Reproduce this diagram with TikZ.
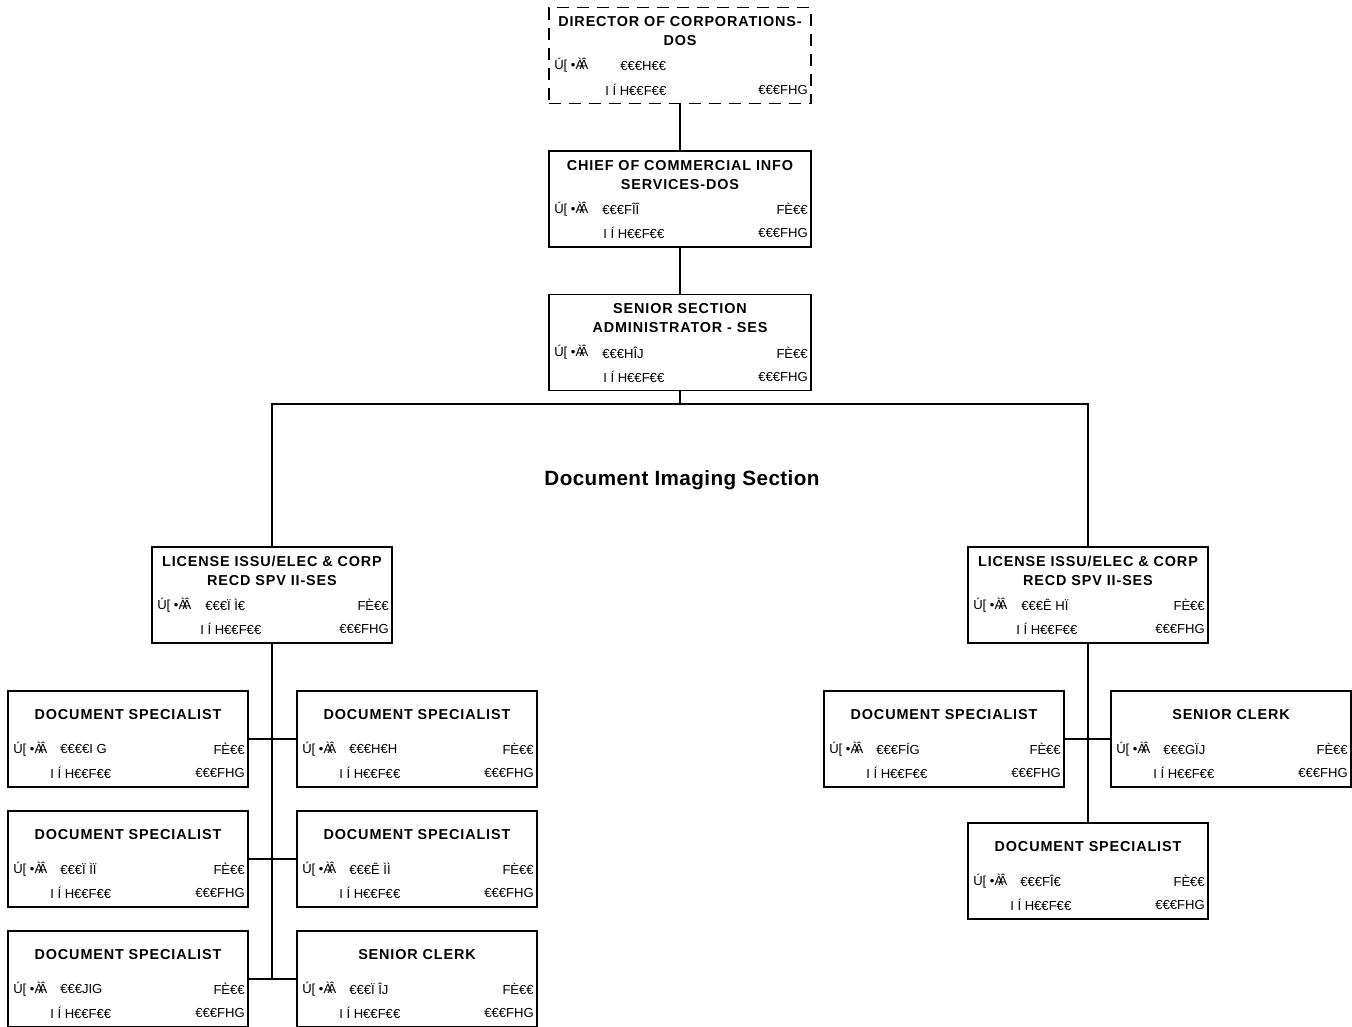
\documentclass[tikz,border=0pt]{standalone}
\usepackage{fontspec}
\setmainfont{Liberation Sans}
\newfontfamily\ttlfont[LetterSpace=6]{Liberation Sans}
\newfontfamily\secfont[LetterSpace=2]{Liberation Sans}
\usetikzlibrary{calc}
\begin{document}
\begin{tikzpicture}[x=0.75pt,y=-0.75pt,
  unit/.style={draw, line width=1.1pt, minimum width=180pt, minimum height=72pt, inner sep=0pt, outer sep=0pt},
  wideunit/.style={unit, minimum width=196.5pt},
  vacant/.style={wideunit, dash pattern=on 9pt off 6pt},
  ttl/.style={font=\ttlfont\bfseries\fontsize{10.8}{14.25}\selectfont, align=center, inner sep=0pt},
  codetxt/.style={font=\fontsize{9.8}{11}\selectfont, inner sep=0pt},
  link/.style={line width=1.3pt}]
\useasboundingbox (0,0) rectangle (1352,1026);

% #1 name, #2 centre, #3 box style, #4 title, #5 position number,
% #6 number offset, #7 second-line offset, #8 grade text
\newcommand\orgunit[8]{%
  \node[#3] (#1) at #2 {};
  \node[ttl] (#1-t) at ($(#1.north)+(0,24)$) {#4};
  \node[codetxt, anchor=west] (#1-a) at ($(#1.north west)+(5,58)$) {Ú[ •À\kern-.35emÂ};
  \node[codetxt, anchor=west] (#1-n) at ($(#1.north west)+(#6,58)$) {#5};
  \node[codetxt, anchor=east] (#1-g) at ($(#1.north east)+(-3,58)$) {#8};
  \node[codetxt, anchor=west] (#1-s) at ($(#1.north west)+(#7,82)$) {I Í H€€F€€};
  \node[codetxt, anchor=east] (#1-r) at ($(#1.north east)+(-3,82)$) {€€€FHG};
}

% top of the chain
\orgunit{dir}{(680,55.5)}{vacant}{DIRECTOR OF CORPORATIONS-\\DOS}{€€€H€€}{71}{56}{}
\orgunit{chief}{(680,199)}{wideunit}{CHIEF OF COMMERCIAL INFO\\SERVICES-DOS}{€€€FÎÎ}{53}{54}{FÈ€€}
\orgunit{senior}{(680,342.5)}{wideunit}{SENIOR SECTION\\ADMINISTRATOR - SES}{€€€HÎJ}{53}{54}{FÈ€€}

\node[font=\secfont\bfseries\fontsize{15.5}{18}\selectfont, inner sep=0pt] (section) at (682,480) {Document Imaging Section};

% supervisors
\orgunit{licL}{(272,595)}{unit}{LICENSE ISSU/ELEC \& CORP\\RECD SPV II-SES}{€€€Ï Ì€}{53}{48}{FÈ€€}
\orgunit{licR}{(1088,595)}{unit}{LICENSE ISSU/ELEC \& CORP\\RECD SPV II-SES}{€€€Ê HÏ}{53}{48}{FÈ€€}

% left group
\orgunit{a1}{(128,739)}{unit}{DOCUMENT SPECIALIST}{€€€€I G}{52}{42}{FÈ€€}
\orgunit{a2}{(417,739)}{unit}{DOCUMENT SPECIALIST}{€€€H€H}{52}{42}{FÈ€€}
\orgunit{b1}{(128,859)}{unit}{DOCUMENT SPECIALIST}{€€€Ï ÌÏ}{52}{42}{FÈ€€}
\orgunit{b2}{(417,859)}{unit}{DOCUMENT SPECIALIST}{€€€Ê ÌÌ}{52}{42}{FÈ€€}
\orgunit{c1}{(128,979)}{unit}{DOCUMENT SPECIALIST}{€€€JIG}{52}{42}{FÈ€€}
\orgunit{c2}{(417,979)}{unit}{SENIOR CLERK}{€€€Ï ÎJ}{52}{42}{FÈ€€}

% right group
\orgunit{r1}{(944,739)}{unit}{DOCUMENT SPECIALIST}{€€€FÍG}{52}{42}{FÈ€€}
\orgunit{r2}{(1231,739)}{unit}{SENIOR CLERK}{€€€GÏJ}{52}{42}{FÈ€€}
\orgunit{r3}{(1088,871)}{unit}{DOCUMENT SPECIALIST}{€€€FÎ€}{52}{42}{FÈ€€}

% connectors
\coordinate (bus) at (680,404);
\coordinate (trunkL) at (272,979);
\draw[link] (dir.south) -- (chief.north);
\draw[link] (chief.south) -- (senior.north);
\draw[link] (senior.south) -- (bus);
\draw[link] (licL.north) |- (bus);
\draw[link] (licR.north) |- (bus);
\draw[link] (licL.south) -- (trunkL);
\draw[link] (a1.east) -- (a2.west);
\draw[link] (b1.east) -- (b2.west);
\draw[link] (c1.east) -- (c2.west);
\draw[link] (licR.south) -- (r3.north);
\draw[link] (r1.east) -- (r2.west);
\end{tikzpicture}
\end{document}
